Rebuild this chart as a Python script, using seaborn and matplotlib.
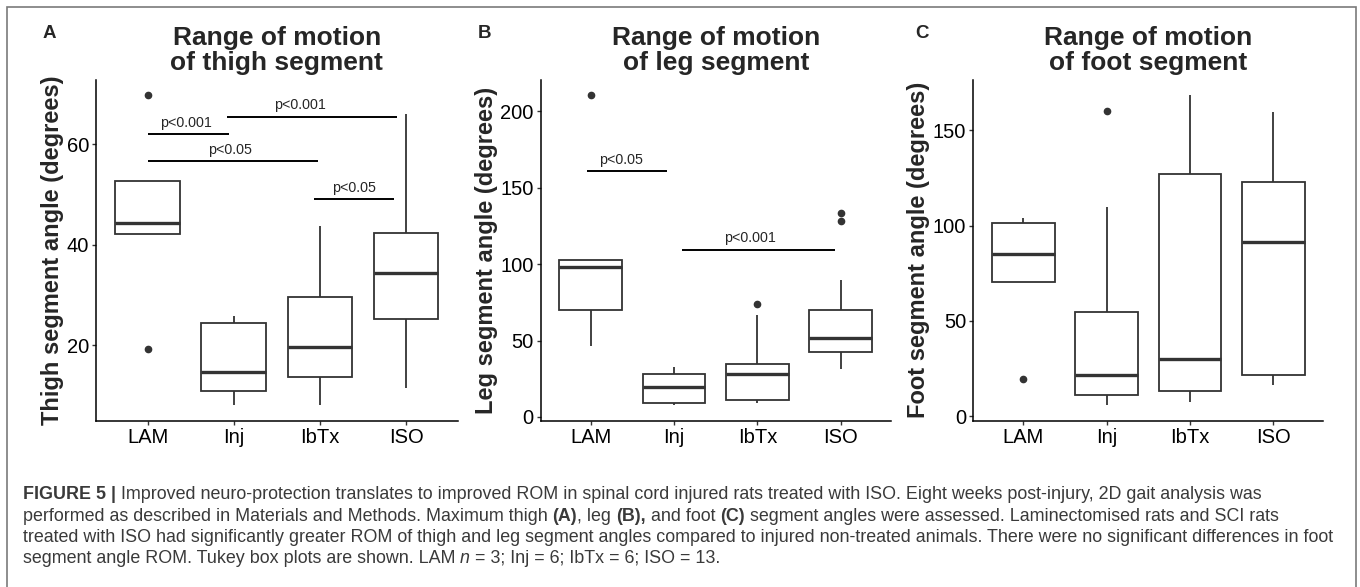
import matplotlib
matplotlib.use("Agg")
import matplotlib.pyplot as plt
import pandas as pd
import seaborn as sns
from matplotlib.patches import Rectangle
from matplotlib.ticker import MultipleLocator

W, H = 1360, 587

groups = ["LAM", "Inj", "IbTx", "ISO"]

# box statistics (lower whisker, q1, median, q3, upper whisker, outliers)
thigh_lo = [42.2, 8.1, 8.1, 11.6]
thigh_q1 = [42.2, 10.9, 13.8, 25.2]
thigh_med = [44.4, 14.8, 19.7, 34.3]
thigh_q3 = [52.7, 24.5, 29.7, 42.4]
thigh_hi = [52.7, 25.8, 43.8, 66.1]
thigh_out = [[19.3, 69.7], [], [], []]

leg_lo = [46.5, 7.7, 9.2, 31.2]
leg_q1 = [69.8, 9.2, 11.1, 42.5]
leg_med = [98.2, 19.6, 28.4, 51.7]
leg_q3 = [103.0, 28.4, 34.7, 69.8]
leg_hi = [103.0, 32.7, 66.4, 89.9]
leg_out = [[210.3], [], [73.6], [127.9, 133.5]]

foot_lo = [70.7, 5.8, 7.6, 16.6]
foot_q1 = [70.7, 11.2, 13.1, 21.7]
foot_med = [85.3, 21.4, 30.1, 91.2]
foot_q3 = [101.4, 54.8, 127.3, 122.9]
foot_hi = [103.8, 109.8, 168.3, 159.5]
foot_out = [[19.4], [160.0], [], []]

# significance bars (x in category positions)
thigh_sig_x0 = [0.0, 0.92, 0.0, 1.93]
thigh_sig_x1 = [0.94, 2.89, 1.98, 2.86]
thigh_sig_y = [62.1, 65.5, 56.6, 49.1]
thigh_sig_tx = [0.45, 1.77, 0.95, 2.39]
thigh_sig_lab = ["p<0.001", "p<0.001", "p<0.05", "p<0.05"]

leg_sig_x0 = [-0.05, 1.09]
leg_sig_x1 = [0.91, 2.93]
leg_sig_y = [161.0, 109.5]
leg_sig_tx = [0.36, 1.91]
leg_sig_lab = ["p<0.05", "p<0.001"]

caption_lines = [
    [("FIGURE 5 | ", "bold", "normal"),
     ("Improved neuro-protection translates to improved ROM in spinal cord injured rats "
      "treated with ISO. Eight weeks post-injury, 2D gait analysis was", "normal", "normal")],
    [("performed as described in Materials and Methods. Maximum thigh ", "normal", "normal"),
     ("(A)", "bold", "normal"), (", leg ", "normal", "normal"), ("(B),", "bold", "normal"),
     (" and foot ", "normal", "normal"), ("(C)", "bold", "normal"),
     (" segment angles were assessed. Laminectomised rats and SCI rats", "normal", "normal")],
    [("treated with ISO had significantly greater ROM of thigh and leg segment angles compared "
      "to injured non-treated animals. There were no significant differences in foot", "normal", "normal")],
    [("segment angle ROM. Tukey box plots are shown. LAM ", "normal", "normal"),
     ("n", "normal", "italic"), (" = 3; Inj = 6; IbTx = 6; ISO = 13.", "normal", "normal")],
]

BOX = "#333333"
CAP = "#3a3a3a"


def box_samples(lo, q1, med, q3, hi, out):
    # rebuild a sample whose Tukey stats equal the values
    below = sorted(v for v in out if v < lo)
    above = sorted(v for v in out if v > hi)
    m = max(len(below), len(above)) + 1
    return (below + [lo] * (m - len(below)) + [q1] * m + [med] * m
            + [q3] + [hi] * (m - len(above)) + above)


def make_table(lo, q1, med, q3, hi, out):
    rows = []
    for g, *s in zip(groups, lo, q1, med, q3, hi, out):
        rows += [(g, v) for v in box_samples(*s)]
    return pd.DataFrame(rows, columns=["group", "angle"])


def draw_panel(ax, df, ylabel, title, step):
    sns.boxplot(data=df, x="group", y="angle", order=groups, ax=ax,
                color="white", linecolor=BOX, linewidth=1.3, width=0.75,
                showcaps=False, whis=1.5,
                medianprops=dict(linewidth=2.4),
                flierprops=dict(marker="o", markerfacecolor=BOX,
                                markeredgecolor=BOX, markersize=4.5))
    lo, hi = df["angle"].min(), df["angle"].max()
    pad = 0.05 * (hi - lo)
    ax.set_ylim(lo - pad, hi + pad)
    ax.set_xlim(-0.6, 3.6)
    ax.yaxis.set_major_locator(MultipleLocator(step))
    ax.set_xlabel("")
    ax.set_ylabel(ylabel, fontsize=17, fontweight="bold", labelpad=2)
    ax.set_title(title, fontsize=19, fontweight="bold", pad=7, linespacing=1.05)
    ax.tick_params(labelsize=14.5, length=3, width=1, color=BOX, pad=2, labelcolor="black")
    for side in ["left", "bottom"]:
        ax.spines[side].set_linewidth(1.1)
        ax.spines[side].set_color("black")
    sns.despine(ax=ax)


def draw_sig(ax, x0, x1, y, tx, labels):
    for a, b, yy, t, lab in zip(x0, x1, y, tx, labels):
        ax.plot([a, b], [yy, yy], color="black", lw=1.4, solid_capstyle="butt")
        ax.annotate(lab, (t, yy), xytext=(0, 3), textcoords="offset points",
                    ha="center", va="bottom", fontsize=10.3)


def text_width(fig, r, s, kw):
    a = fig.text(0, 0, "|" + s + "|", **kw)
    b = fig.text(0, 0, "||", **kw)
    w = a.get_window_extent(r).width - b.get_window_extent(r).width
    a.remove()
    b.remove()
    return w


def put_runs(fig, x, base, runs, size):
    r = fig.canvas.get_renderer()
    for s, weight, style in runs:
        kw = dict(fontsize=size, fontweight=weight, fontstyle=style, color=CAP)
        body = s.lstrip(" ")
        if len(body) < len(s):
            x += text_width(fig, r, s[:len(s) - len(body)], kw)
        fig.text(x / W, 1 - base / H, body, ha="left", va="baseline", **kw)
        x += text_width(fig, r, body, kw)


sns.set_theme(style="ticks")
plt.rcParams["font.family"] = ["Liberation Sans", "DejaVu Sans"]

fig = plt.figure(figsize=(W / 100, H / 100), dpi=100)

bottom, top = 420.7, 80
panels = [(96, 457.7), (540.7, 890.7), (973.3, 1323.3)]
axes = [fig.add_axes([l / W, 1 - bottom / H, (r - l) / W, (bottom - top) / H])
        for l, r in panels]

draw_panel(axes[0], make_table(thigh_lo, thigh_q1, thigh_med, thigh_q3, thigh_hi, thigh_out),
           "Thigh segment angle (degrees)", "Range of motion\nof thigh segment", 20)
draw_sig(axes[0], thigh_sig_x0, thigh_sig_x1, thigh_sig_y, thigh_sig_tx, thigh_sig_lab)

draw_panel(axes[1], make_table(leg_lo, leg_q1, leg_med, leg_q3, leg_hi, leg_out),
           "Leg segment angle (degrees)", "Range of motion\nof leg segment", 50)
draw_sig(axes[1], leg_sig_x0, leg_sig_x1, leg_sig_y, leg_sig_tx, leg_sig_lab)

draw_panel(axes[2], make_table(foot_lo, foot_q1, foot_med, foot_q3, foot_hi, foot_out),
           "Foot segment angle (degrees)", "Range of motion\nof foot segment", 50)

for letter, x in zip(["A", "B", "C"], [43, 478, 915]):
    fig.text(x / W, 1 - 38 / H, letter, fontsize=13.5, fontweight="bold", va="baseline")

# caption
for line, base in zip(caption_lines, [499.3, 520.7, 542, 563.3]):
    put_runs(fig, 22.7, base, line, 12.9)

fig.add_artist(Rectangle((7 / W, -0.05), (1356 - 7) / W, 1.05 - 7 / H,
                         transform=fig.transFigure, fill=False,
                         edgecolor="#7a7a7a", lw=1.2))

fig.savefig("out.png", dpi=100)
